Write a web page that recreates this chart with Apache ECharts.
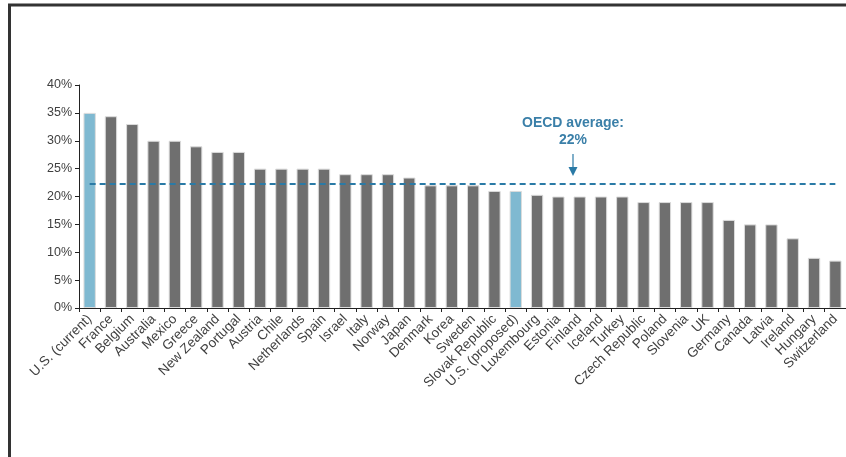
<!DOCTYPE html>
<html>
<head>
<meta charset="utf-8">
<script src="https://cdn.jsdelivr.net/npm/echarts@6/dist/echarts.min.js"></script>
<style>
  html, body { margin: 0; padding: 0; background: #fff; }
  #chart { width: 846px; height: 457px; }
</style>
</head>
<body>
<div id="chart"></div>
<script>
  // countries, left to right
  var countries = ['U.S. (current)', 'France', 'Belgium', 'Australia', 'Mexico', 'Greece', 'New Zealand',
    'Portugal', 'Austria', 'Chile', 'Netherlands', 'Spain', 'Israel', 'Italy', 'Norway', 'Japan',
    'Denmark', 'Korea', 'Sweden', 'Slovak Republic', 'U.S. (proposed)', 'Luxembourg', 'Estonia',
    'Finland', 'Iceland', 'Turkey', 'Czech Republic', 'Poland', 'Slovenia', 'UK', 'Germany',
    'Canada', 'Latvia', 'Ireland', 'Hungary', 'Switzerland'];
  // corporate tax rate, %
  var rates = [35, 34.4, 33, 30, 30, 29, 28, 28, 25, 25, 25, 25, 24, 24, 24, 23.4,
    22, 22, 22, 21, 21, 20.3, 20, 20, 20, 20, 19, 19, 19, 19, 15.8, 15, 15, 12.5, 9, 8.5];
  var highlighted = ['U.S. (current)', 'U.S. (proposed)'];
  var oecdAverage = 22.3;
  var yTicks = [0, 5, 10, 15, 20, 25, 30, 35, 40];

  var myChart = echarts.init(document.getElementById('chart'));

  var barData = countries.map(function(name, i) {
    return {
      value: rates[i],
      itemStyle: { color: highlighted.indexOf(name) >= 0 ? '#7fb9d1' : '#6f6f6f' }
    };
  });

  var option = {
    animation: false,
    grid: { left: 79, right: -3, top: 85, bottom: 149 },
    xAxis: {
      type: 'category',
      data: countries,
      axisLine: { lineStyle: { color: '#222', width: 1 } },
      axisTick: { show: true, length: 4, lineStyle: { color: '#222' } },
      axisLabel: {
        interval: 0,
        rotate: 45,
        margin: 9,
        color: '#404040',
        fontFamily: 'Liberation Sans, Arial, sans-serif',
        fontSize: 13.5
      }
    },
    yAxis: {
      type: 'value',
      min: yTicks[0],
      max: yTicks[yTicks.length - 1],
      interval: 5,
      axisLine: { show: true, lineStyle: { color: '#222', width: 1 } },
      axisTick: { show: true, length: 4, lineStyle: { color: '#222' } },
      splitLine: { show: false },
      axisLabel: {
        margin: 7,
        color: '#404040',
        fontFamily: 'Liberation Sans, Arial, sans-serif',
        fontSize: 12.5,
        formatter: '{value}%'
      }
    },
    series: [{
      type: 'bar',
      barWidth: '58%',
      data: barData,
      itemStyle: { borderColor: '#dcdcdc', borderWidth: 1 },
      markLine: {
        silent: true,
        symbol: 'none',
        label: { show: false },
        lineStyle: { color: '#2a7aa6', type: [6, 4], width: 2 },
        data: [[
          { coord: [0, oecdAverage] },
          { coord: [countries.length - 1, oecdAverage] }
        ]]
      },
      z: 2
    }],
    graphic: [
      // frame lines (top / left)
      { type: 'line', shape: { x1: 8, y1: 5, x2: 846, y2: 5 }, style: { stroke: '#333', lineWidth: 3 } },
      { type: 'line', shape: { x1: 9.5, y1: 5, x2: 9.5, y2: 457 }, style: { stroke: '#333', lineWidth: 3 } },
      // OECD annotation
      {
        type: 'text', x: 573, y: 115,
        style: {
          text: 'OECD average:\n22%', align: 'center', verticalAlign: 'top', fill: '#3a7fa8',
          font: 'bold 14px Liberation Sans, Arial, sans-serif', lineHeight: 17
        },
        z: 10
      },
      { type: 'line', shape: { x1: 573, y1: 154, x2: 573, y2: 170 }, style: { stroke: '#2a7aa6', lineWidth: 1.2 }, z: 10 },
      { type: 'polygon', shape: { points: [[568.5, 167], [577.5, 167], [573, 176]] }, style: { fill: '#2a7aa6' }, z: 10 }
    ]
  };

  myChart.setOption(option);
</script>
</body>
</html>
